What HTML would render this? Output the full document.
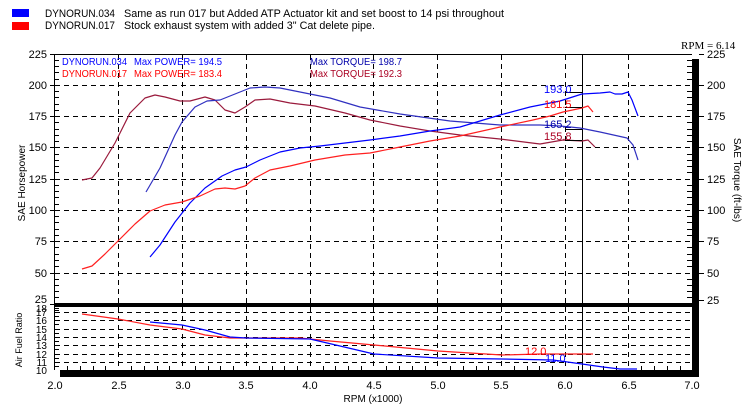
<!DOCTYPE html>
<html><head><meta charset="utf-8"><style>
html,body{margin:0;padding:0;background:#fff;}
svg{display:block;font-family:"Liberation Sans",Arial,sans-serif;}
</style></head><body>
<svg width="751" height="416" viewBox="0 0 751 416" xmlns="http://www.w3.org/2000/svg">
<rect width="751" height="416" fill="#fff"/>
<!-- top legend -->
<rect x="12" y="9" width="17" height="8" fill="#0000ff"/>
<rect x="12" y="22" width="17" height="8" fill="#ff0000"/>
<g font-size="11" fill="#000">
<text x="45" y="17" textLength="70" lengthAdjust="spacingAndGlyphs">DYNORUN.034</text><text x="124" y="17" textLength="380" lengthAdjust="spacingAndGlyphs">Same as run 017 but Added ATP Actuator kit and set boost to 14 psi throughout</text>
<text x="45" y="29" textLength="70" lengthAdjust="spacingAndGlyphs">DYNORUN.017</text><text x="124" y="29" textLength="251" lengthAdjust="spacingAndGlyphs">Stock exhaust system with added 3" Cat delete pipe.</text>
</g>
<text x="681" y="49" font-family="Liberation Serif,serif" font-size="11">RPM = 6.14</text>
<!-- grid -->
<g stroke="#000" stroke-width="1" stroke-dasharray="5,4" fill="none">
<path d="M55 85.5H692M55 116.5H692M55 147.5H692M55 179.5H692M55 210.5H692M55 241.5H692M55 273.5H692"/>
<path d="M55 312.5H692M55 320.5H692M55 329.5H692M55 337.5H692M55 345.5H692M55 354.5H692M55 362.5H692"/>
<path d="M118.5 55V370M182.5 55V370M246.5 55V370M310.5 55V370M373.5 55V370M437.5 55V370M501.5 55V370M565.5 55V370M628.5 55V370"/>
</g>
<!-- frame -->
<path d="M54.5 370V54.5H692" stroke="#000" fill="none"/>
<rect x="55" y="303" width="644" height="4" fill="#000"/>
<rect x="692" y="59" width="7" height="318" fill="#000"/>
<rect x="60" y="370" width="639" height="7" fill="#000"/>
<line x1="582.5" y1="55" x2="582.5" y2="370" stroke="#000"/>
<!-- ticks -->
<g stroke="#000">
<path d="M50 54.5H55M50 85.5H55M50 116.5H55M50 147.5H55M50 179.5H55M50 210.5H55M50 241.5H55M50 273.5H55M50 304.5H55"/>
<path d="M55 60.5H59M55 66.5H59M55 72.5H59M55 79.5H59M55 91.5H59M55 97.5H59M55 104.5H59M55 110.5H59M55 122.5H59M55 129.5H59M55 135.5H59M55 141.5H59M55 154.5H59M55 160.5H59M55 166.5H59M55 172.5H59M55 185.5H59M55 191.5H59M55 197.5H59M55 204.5H59M55 216.5H59M55 222.5H59M55 229.5H59M55 235.5H59M55 247.5H59M55 254.5H59M55 260.5H59M55 266.5H59M55 279.5H59M55 285.5H59M55 291.5H59M55 297.5H59"/>
<path d="M55 316.5H59M55 324.5H59M55 333.5H59M55 341.5H59M55 349.5H59M55 358.5H59M55 366.5H59M55 310.5H59M55 308.5H59"/>
<path d="M687 60.5H692M687 66.5H692M687 72.5H692M687 79.5H692M687 91.5H692M687 97.5H692M687 104.5H692M687 110.5H692M687 122.5H692M687 129.5H692M687 135.5H692M687 141.5H692M687 154.5H692M687 160.5H692M687 166.5H692M687 172.5H692M687 185.5H692M687 191.5H692M687 197.5H692M687 204.5H692M687 216.5H692M687 222.5H692M687 229.5H692M687 235.5H692M687 247.5H692M687 254.5H692M687 260.5H692M687 266.5H692M687 279.5H692M687 285.5H692M687 291.5H692M687 297.5H692"/>
<path d="M699 54.5H704M699 85.5H704M699 116.5H704M699 147.5H704M699 179.5H704M699 210.5H704M699 241.5H704M699 273.5H704M699 300.5H704"/>
<path d="M67.5 366V370M80.5 366V370M93.5 366V370M105.5 366V370M131.5 366V370M144.5 366V370M157.5 366V370M169.5 366V370M195.5 366V370M208.5 366V370M220.5 366V370M233.5 366V370M259.5 366V370M272.5 366V370M284.5 366V370M297.5 366V370M323.5 366V370M335.5 366V370M348.5 366V370M361.5 366V370M386.5 366V370M399.5 366V370M412.5 366V370M425.5 366V370M450.5 366V370M463.5 366V370M476.5 366V370M488.5 366V370M514.5 366V370M527.5 366V370M539.5 366V370M552.5 366V370M578.5 366V370M590.5 366V370M603.5 366V370M616.5 366V370M641.5 366V370M654.5 366V370M667.5 366V370M680.5 366V370"/>
</g>
<!-- axis labels -->
<g font-size="11" text-anchor="end">
<text x="47" y="58">225</text><text x="47" y="89">200</text><text x="47" y="120">175</text><text x="47" y="151">150</text><text x="47" y="183">125</text><text x="47" y="214">100</text><text x="47" y="245">75</text><text x="47" y="277">50</text><text x="47" y="303">25</text>
</g>
<g font-size="10" text-anchor="end">
<text x="47" y="374">10</text><text x="47" y="366">11</text><text x="47" y="358">12</text><text x="47" y="349">13</text><text x="47" y="341">14</text><text x="47" y="333">15</text><text x="47" y="324">16</text><text x="47" y="316">17</text><text x="47" y="312">18</text>
</g>
<g font-size="11">
<text x="707" y="58">225</text><text x="707" y="89">200</text><text x="707" y="120">175</text><text x="707" y="151">150</text><text x="707" y="183">125</text><text x="707" y="214">100</text><text x="707" y="245">75</text><text x="707" y="277">50</text><text x="707" y="304">25</text>
</g>
<g font-size="11" text-anchor="middle">
<text x="55" y="389">2.0</text><text x="119" y="389">2.5</text><text x="183" y="389">3.0</text><text x="246" y="389">3.5</text><text x="310" y="389">4.0</text><text x="374" y="389">4.5</text><text x="438" y="389">5.0</text><text x="501" y="389">5.5</text><text x="565" y="389">6.0</text><text x="629" y="389">6.5</text><text x="692" y="389">7.0</text>
<text x="373" y="402" font-size="10">RPM (x1000)</text>
</g>
<text transform="translate(25,183) rotate(-90)" font-size="10" text-anchor="middle">SAE Horsepower</text>
<text transform="translate(22,340) rotate(-90)" font-size="9" text-anchor="middle">Air Fuel Ratio</text>
<text transform="translate(734,180) rotate(90)" font-size="10" text-anchor="middle">SAE Torque (ft-lbs)</text>
<!-- inner legend -->
<g font-size="10.5">
<text x="62" y="65" fill="#0000ff" textLength="65" lengthAdjust="spacingAndGlyphs">DYNORUN.034</text><text x="134" y="65" fill="#0000ff" textLength="88" lengthAdjust="spacingAndGlyphs">Max POWER= 194.5</text><text x="310" y="65" fill="#0000aa" textLength="92" lengthAdjust="spacingAndGlyphs">Max TORQUE= 198.7</text>
<text x="62" y="77" fill="#ff0000" textLength="65" lengthAdjust="spacingAndGlyphs">DYNORUN.017</text><text x="134" y="77" fill="#ff0000" textLength="88" lengthAdjust="spacingAndGlyphs">Max POWER= 183.4</text><text x="310" y="77" fill="#aa0022" textLength="92" lengthAdjust="spacingAndGlyphs">Max TORQUE= 192.3</text>
</g>
<!-- curves -->
<g fill="none" stroke-width="1.2" stroke-linejoin="round">
<polyline stroke="#9a1a3c" points="82,180 92,178 100,168 115,143 130,113 145,98 155,95 165,97 180,101 190,101 205,97 215,100 225,110 235,113 245,107 255,100 270,99 290,103 315,106 345,113 370,120 400,126 430,131 460,135 500,139 540,144 563,140 582,141 588,140 595,147"/>
<polyline stroke="#3030c0" points="146,192 160,168 175,135 182,122 195,107 207,101 220,100 235,94 250,88 265,87 280,88 300,92 330,98 360,107 400,114 450,121 500,125 540,125 560,126 580,128 600,132 618,136 627,138 633,145 638,160"/>
<polyline stroke="#0000ff" points="150,257 160,245 175,222 190,203 205,188 222,176 235,170 246,167 260,160 280,152 300,148 320,146 345,143 370,140 400,136 430,131 460,127 500,115 530,107 560,101 582,94 600,93 610,92 615,94 622,94 628,92 632,100 638,116"/>
<polyline stroke="#ff2020" points="82,269 92,266 105,254 118,241 135,224 150,211 165,205 182,202 200,196 215,189 225,188 235,189 245,186 255,178 270,170 290,166 315,160 345,155 370,153 400,147 430,141 460,136 500,127 533,120 550,116 563,112 582,108 588,106 593,112"/>
<polyline stroke="#ff2020" points="82,314 118,319 150,325 182,329 205,335 230,338 246,338 300,338 330,341 374,345 438,351 502,355 540,354 593,354"/>
<polyline stroke="#0000ff" points="150,322 182,325 205,330 230,337 246,338 310,339 340,346 374,354 438,358 502,359 553,360 582,364 603,367 620,369 637,369"/>
</g>
<g stroke="#000"><path d="M565 92.5H582M565 107.5H582M565 129.5H582M565 140.5H582"/></g>
<g font-size="11">
<text x="544" y="93" fill="#0000ff">193.0</text>
<text x="544" y="108" fill="#ff0000">181.5</text>
<text x="544" y="128" fill="#0000aa">165.2</text>
<text x="544" y="140" fill="#aa0022">155.8</text>
<text x="525" y="355" fill="#ff0000">12.0</text>
<text x="545" y="362" fill="#0000ff">11.0</text>
</g>
</svg>
</body></html>
